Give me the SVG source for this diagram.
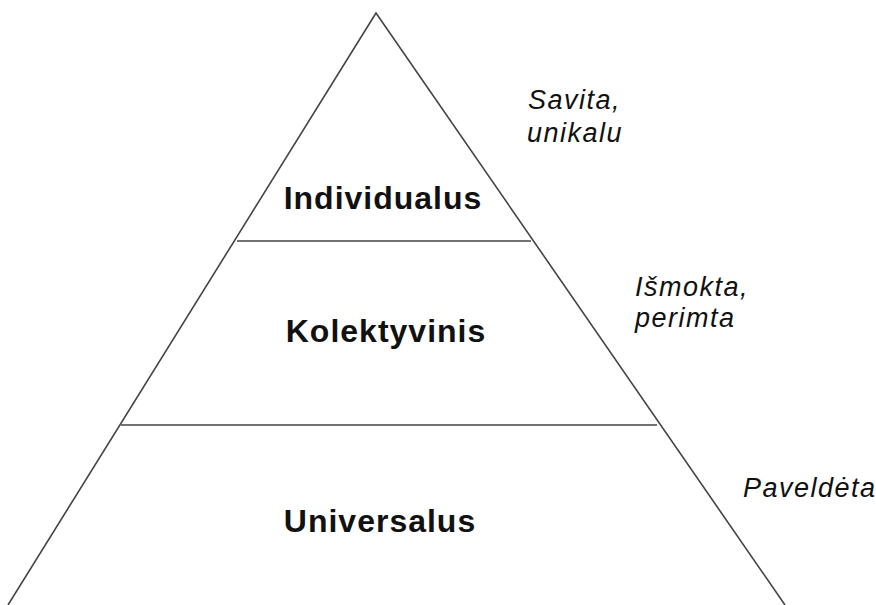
<svg xmlns="http://www.w3.org/2000/svg" width="876" height="605" viewBox="0 0 876 605">
<style>
.edge{stroke:#444;stroke-width:1.6;fill:none}
.lvl{font-family:"Liberation Sans",Arial,sans-serif;font-weight:bold;font-size:32px;letter-spacing:1px;fill:#111;text-anchor:middle}
.note{font-family:"Liberation Sans",Arial,sans-serif;font-style:italic;font-size:27px;letter-spacing:1.5px;fill:#111}
</style>
<rect width="876" height="605" fill="#fff"/>
<g id="connectors">
<polyline class="edge" points="8,605 376,13 785,605"/>
<line class="edge" x1="237" y1="241" x2="531" y2="241"/>
<line class="edge" x1="121" y1="425" x2="657" y2="425"/>
</g>
<g id="individualus"><text class="lvl" x="383" y="209">Individualus</text></g>
<g id="kolektyvinis"><text class="lvl" x="386" y="342">Kolektyvinis</text></g>
<g id="universalus"><text class="lvl" x="380" y="532">Universalus</text></g>
<g id="note-savita"><text class="note" x="528" y="109">Savita,</text><text class="note" x="527" y="142">unikalu</text></g>
<g id="note-ismokta"><text class="note" x="635" y="296">Išmokta,</text><text class="note" x="635" y="327">perimta</text></g>
<g id="note-paveldeta"><text class="note" x="743" y="497">Paveldėta</text></g>
</svg>
